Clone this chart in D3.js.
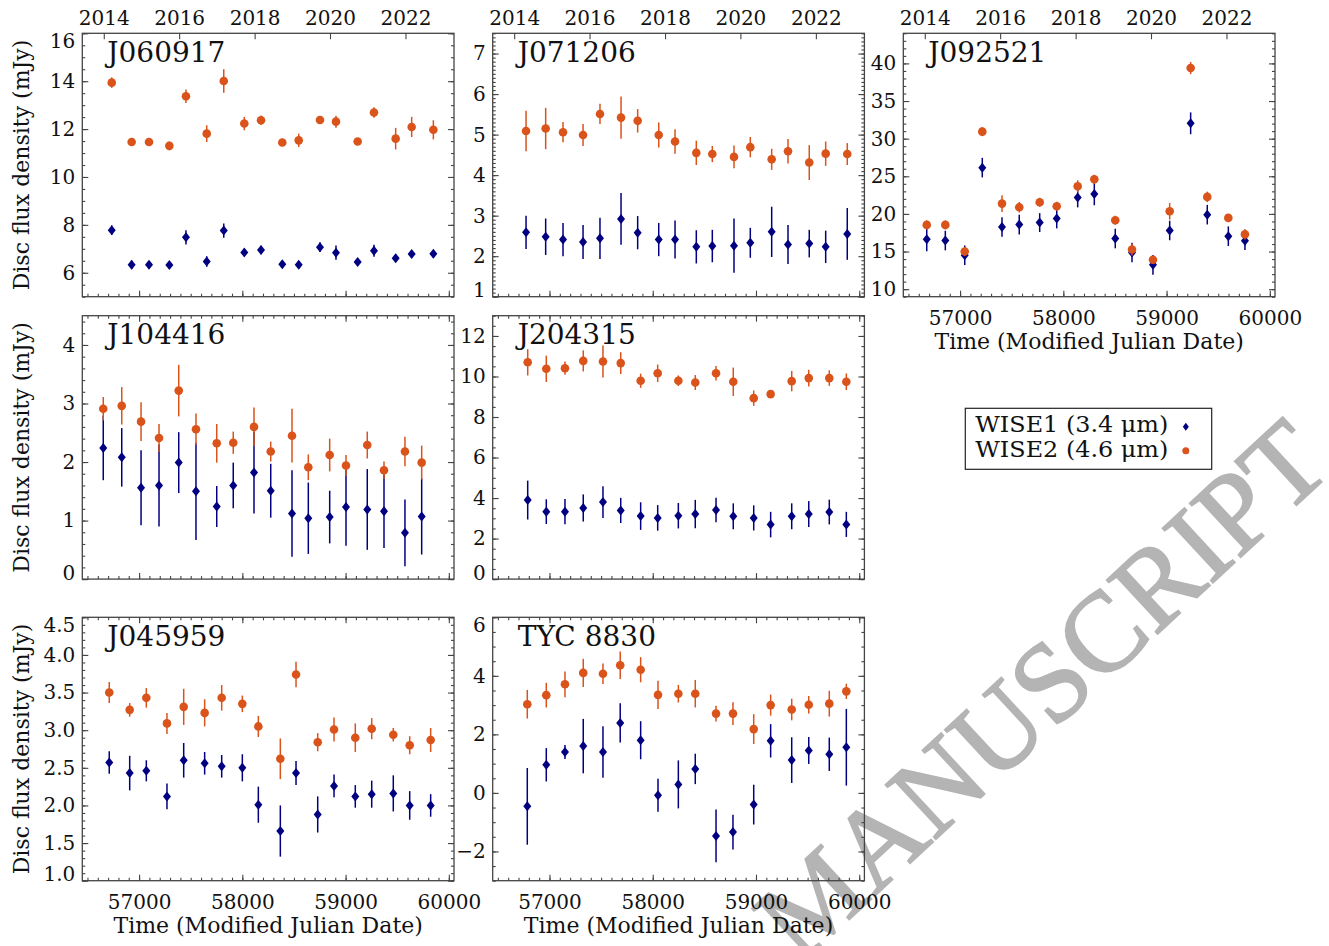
<!DOCTYPE html>
<html>
<head>
<meta charset="utf-8">
<script src="https://cdn.jsdelivr.net/npm/d3@7"></script>
<style>
  body { margin: 0; background: #fff; }
  svg { display: block; }
  text { font-family: "DejaVu Serif", serif; fill: #111; }
</style>
</head>
<body>
<script>
// light curves, WISE1 (3.4 um) and WISE2 (4.6 um)
var j060917_mjd = [56735, 56928, 57096, 57293, 57454, 57655, 57820, 58019, 58181, 58387, 58546, 58752, 58907, 59117, 59275, 59485, 59640, 59850];
var j060917_w1  = [7.78, 6.33, 6.33, 6.32, 7.48, 6.47, 7.76, 6.85, 6.95, 6.35, 6.33, 7.07, 6.84, 6.45, 6.92, 6.61, 6.78, 6.79];
var j060917_w1e = [0.2, 0.18, 0.15, 0.15, 0.3, 0.22, 0.3, 0.15, 0.18, 0.15, 0.15, 0.2, 0.3, 0.15, 0.25, 0.15, 0.15, 0.15];
var j060917_w2  = [13.94, 11.46, 11.46, 11.30, 13.37, 11.81, 14.01, 12.23, 12.37, 11.44, 11.53, 12.38, 12.31, 11.48, 12.69, 11.60, 12.09, 11.97];
var j060917_w2e = [0.22, 0.15, 0.12, 0.18, 0.28, 0.35, 0.49, 0.28, 0.2, 0.15, 0.28, 0.15, 0.25, 0.12, 0.22, 0.45, 0.42, 0.4];

var j071206_mjd = [56773, 56963, 57131, 57325, 57489, 57693, 57854, 58058, 58216, 58422, 58577, 58787, 58945, 59152, 59310, 59516, 59675, 59884];
var j071206_w1  = [2.59, 2.48, 2.41, 2.35, 2.44, 2.92, 2.58, 2.41, 2.41, 2.23, 2.25, 2.26, 2.33, 2.60, 2.29, 2.31, 2.23, 2.55];
var j071206_w1e = [0.41, 0.45, 0.41, 0.42, 0.51, 0.64, 0.41, 0.41, 0.47, 0.41, 0.4, 0.67, 0.37, 0.62, 0.48, 0.34, 0.4, 0.64];
var j071206_w2  = [5.09, 5.15, 5.06, 4.99, 5.51, 5.42, 5.34, 4.99, 4.83, 4.55, 4.52, 4.45, 4.69, 4.39, 4.59, 4.31, 4.53, 4.52];
var j071206_w2e = [0.5, 0.51, 0.25, 0.27, 0.25, 0.52, 0.29, 0.31, 0.3, 0.3, 0.2, 0.28, 0.25, 0.26, 0.3, 0.43, 0.3, 0.27];

var j092521_mjd = [56677, 56857, 57045, 57215, 57406, 57573, 57771, 57936, 58139, 58300, 58503, 58665, 58868, 59030, 59233, 59394, 59598, 59759];
var j092521_w1  = [16.64, 16.46, 14.5, 26.15, 18.27, 18.58, 18.85, 19.38, 22.17, 22.65, 16.73, 14.87, 13.23, 17.8, 32.04, 19.9, 17.04, 16.42];
var j092521_w1e = [1.6, 1.3, 1.3, 1.3, 1.3, 1.3, 1.25, 1.3, 1.3, 1.5, 1.3, 1.3, 1.3, 1.3, 1.45, 1.3, 1.3, 1.2];
var j092521_w2  = [18.54, 18.54, 15.0, 30.93, 21.37, 20.88, 21.55, 21.02, 23.67, 24.6, 19.16, 15.27, 13.9, 20.35, 39.38, 22.26, 19.47, 17.3];
var j092521_w2e = [0.6, 0.6, 0.6, 0.6, 1.1, 0.7, 0.6, 0.6, 0.8, 0.6, 0.6, 0.8, 0.5, 1.1, 0.8, 0.7, 0.5, 0.7];

var j104416_mjd = [56653, 56832, 57019, 57193, 57384, 57551, 57752, 57912, 58113, 58275, 58481, 58639, 58846, 59004, 59210, 59372, 59575, 59737];
var j104416_w1  = [2.24, 2.08, 1.56, 1.60, 1.99, 1.50, 1.24, 1.60, 1.82, 1.51, 1.12, 1.04, 1.06, 1.23, 1.19, 1.16, 0.79, 1.07];
var j104416_w1e = [0.55, 0.5, 0.64, 0.7, 0.52, 0.83, 0.35, 0.39, 0.7, 0.46, 0.74, 0.61, 0.45, 0.66, 0.69, 0.63, 0.57, 0.65];
var j104416_w2  = [2.91, 2.96, 2.69, 2.41, 3.22, 2.56, 2.32, 2.33, 2.60, 2.18, 2.45, 1.91, 2.12, 1.94, 2.29, 1.86, 2.18, 1.99];
var j104416_w2e = [0.2, 0.32, 0.33, 0.24, 0.44, 0.27, 0.33, 0.19, 0.33, 0.17, 0.46, 0.22, 0.28, 0.18, 0.23, 0.15, 0.25, 0.29];

var j204315_mjd = [56789, 56969, 57150, 57327, 57518, 57690, 57883, 58048, 58248, 58412, 58613, 58780, 58978, 59142, 59346, 59511, 59710, 59875];
var j204315_w1  = [3.90, 3.33, 3.33, 3.51, 3.80, 3.39, 3.11, 3.02, 3.13, 3.21, 3.41, 3.10, 3.02, 2.69, 3.10, 3.21, 3.31, 2.70];
var j204315_w1e = [0.96, 0.61, 0.62, 0.67, 0.78, 0.62, 0.68, 0.63, 0.63, 0.7, 0.6, 0.64, 0.62, 0.63, 0.64, 0.64, 0.61, 0.62];
var j204315_w2  = [10.70, 10.38, 10.41, 10.77, 10.74, 10.66, 9.79, 10.16, 9.79, 9.70, 10.16, 9.74, 8.93, 9.13, 9.77, 9.92, 9.92, 9.74];
var j204315_w2e = [0.65, 0.65, 0.33, 0.52, 0.79, 0.54, 0.35, 0.43, 0.26, 0.37, 0.36, 0.7, 0.38, 0.15, 0.5, 0.41, 0.38, 0.41];

var j045959_mjd = [56711, 56909, 57070, 57270, 57432, 57635, 57800, 58000, 58155, 58368, 58520, 58730, 58888, 59094, 59253, 59462, 59621, 59824];
var j045959_w1  = [2.57, 2.43, 2.46, 2.12, 2.60, 2.56, 2.52, 2.50, 2.01, 1.66, 2.43, 1.88, 2.26, 2.12, 2.15, 2.16, 2.00, 2.00];
var j045959_w1e = [0.15, 0.23, 0.14, 0.17, 0.23, 0.15, 0.15, 0.18, 0.24, 0.34, 0.16, 0.24, 0.15, 0.15, 0.18, 0.24, 0.19, 0.15];
var j045959_w2  = [3.50, 3.27, 3.43, 3.09, 3.31, 3.23, 3.43, 3.35, 3.05, 2.62, 3.74, 2.84, 3.01, 2.90, 3.02, 2.94, 2.80, 2.87];
var j045959_w2e = [0.14, 0.09, 0.13, 0.14, 0.24, 0.18, 0.17, 0.11, 0.14, 0.27, 0.17, 0.12, 0.16, 0.19, 0.14, 0.09, 0.12, 0.16];

var tyc8830_mjd = [56785, 56969, 57150, 57327, 57518, 57685, 57883, 58051, 58248, 58412, 58613, 58777, 58978, 59142, 59346, 59511, 59710, 59875];
var tyc8830_w1  = [-0.46, 0.96, 1.40, 1.60, 1.40, 2.39, 1.80, -0.08, 0.29, 0.82, -1.47, -1.34, -0.40, 1.78, 1.12, 1.45, 1.32, 1.56];
var tyc8830_w1e = [1.31, 0.57, 0.24, 0.93, 0.88, 0.67, 0.65, 0.56, 0.82, 0.52, 0.9, 0.59, 0.68, 0.57, 0.78, 0.46, 0.57, 1.31];
var tyc8830_w2  = [3.03, 3.34, 3.71, 4.10, 4.07, 4.36, 4.21, 3.35, 3.39, 3.39, 2.71, 2.71, 2.18, 3.00, 2.85, 3.01, 3.05, 3.47];
var tyc8830_w2e = [0.49, 0.42, 0.44, 0.48, 0.35, 0.47, 0.43, 0.48, 0.3, 0.47, 0.27, 0.39, 0.51, 0.36, 0.37, 0.3, 0.44, 0.26];

// top axis: calendar years and their MJD
var yearLabels = [2014, 2016, 2018, 2020, 2022];
var yearMjd    = [56658, 57388, 58119, 58849, 59580];
var mjdLabels  = [57000, 58000, 59000, 60000];

var legendLabels = ["WISE1 (3.4 \u03bcm)", "WISE2 (4.6 \u03bcm)"];

var W1_COLOR = "#000080", W2_COLOR = "#d9531a";

var panels = [
  {name: "J060917",  row: 0, col: 0, mjd: j060917_mjd, w1: j060917_w1, w1e: j060917_w1e, w2: j060917_w2, w2e: j060917_w2e, ydom: [5, 16],   major: 2,   minor: 0.5, first: 6},
  {name: "J071206",  row: 0, col: 1, mjd: j071206_mjd, w1: j071206_w1, w1e: j071206_w1e, w2: j071206_w2, w2e: j071206_w2e, ydom: [1, 7.5],  major: 1,   minor: 0.1, first: 1},
  {name: "J092521",  row: 0, col: 2, mjd: j092521_mjd, w1: j092521_w1, w1e: j092521_w1e, w2: j092521_w2, w2e: j092521_w2e, ydom: [9, 44],   major: 5,   minor: 1,   first: 10},
  {name: "J104416",  row: 1, col: 0, mjd: j104416_mjd, w1: j104416_w1, w1e: j104416_w1e, w2: j104416_w2, w2e: j104416_w2e, ydom: [0, 4.5],  major: 1,   minor: 0.2, first: 0},
  {name: "J204315",  row: 1, col: 1, mjd: j204315_mjd, w1: j204315_w1, w1e: j204315_w1e, w2: j204315_w2, w2e: j204315_w2e, ydom: [0, 13],   major: 2,   minor: 0.5, first: 0},
  {name: "J045959",  row: 2, col: 0, mjd: j045959_mjd, w1: j045959_w1, w1e: j045959_w1e, w2: j045959_w2, w2e: j045959_w2e, ydom: [1, 4.5],  major: 0.5, minor: 0.1, first: 1, fmt: ".1f"},
  {name: "TYC 8830", row: 2, col: 1, mjd: tyc8830_mjd, w1: tyc8830_w1, w1e: tyc8830_w1e, w2: tyc8830_w2, w2e: tyc8830_w2e, ydom: [-3, 6],   major: 2,   minor: 0.5, first: -2}
];

var width = 1329, height = 946;
var pw = 371.7, ph = 263.4;
var lefts = [82.3, 492.7, 903.3];
var tops = [33.3, 315.7, 617.3];

var svg = d3.select("body").append("svg")
  .attr("width", width)
  .attr("height", height);

// watermark sits under everything (its lower end runs off the page, as in the original)
svg.append("text")
  .attr("transform", "translate(800,965) rotate(-42.8)")
  .style("font-family", "'Liberation Serif', serif")
  .style("font-size", "113px")
  .style("fill", "#b4b4b4")
  .style("stroke", "#b4b4b4")
  .style("stroke-width", 2)
  .text("MANUSCRIPT");

function steps(lo, hi, step) {
  var n = Math.floor((hi - lo) / step + 1e-6), out = [];
  for (var i = 0; i <= n; i++) out.push(+(lo + i * step).toFixed(4));
  return out;
}

function diamond(hw, hh) {
  return "M0," + (-hh) + "L" + hw + ",0L0," + hh + "L" + (-hw) + ",0Z";
}

var xMinor = steps(56500, 60000, 100);

panels.forEach(function(p) {
  var g = svg.append("g")
    .attr("transform", "translate(" + lefts[p.col] + "," + tops[p.row] + ")");

  var x = d3.scaleLinear().domain([56450, 60050]).range([0, pw]);
  var y = d3.scaleLinear().domain(p.ydom).range([ph, 0]);

  var majors = steps(p.first, p.ydom[1], p.major);
  var minors = steps(Math.ceil(p.ydom[0] / p.minor) * p.minor, p.ydom[1], p.minor);
  var fmt = p.fmt ? d3.format(p.fmt) : d3.format("");

  // y axes, ticks pointing inward on both sides
  var yl = g.append("g").attr("class", "y axis")
    .call(d3.axisLeft(y).tickValues(majors).tickFormat(fmt).tickSize(-6).tickPadding(7));
  // end labels are pulled inside the frame's height
  yl.selectAll(".tick text")
    .attr("y", function(d) {
      var py = y(d);
      if (py < 7.5) return 7.5 - py;
      if (py > ph - 6.5) return ph - 6.5 - py;
      return 0;
    });
  g.append("g").attr("class", "y axis")
    .call(d3.axisLeft(y).tickValues(minors).tickFormat("").tickSize(-3));
  g.append("g").attr("class", "y axis")
    .attr("transform", "translate(" + pw + ",0)")
    .call(d3.axisRight(y).tickValues(majors).tickFormat("").tickSize(-6));
  g.append("g").attr("class", "y axis")
    .attr("transform", "translate(" + pw + ",0)")
    .call(d3.axisRight(y).tickValues(minors).tickFormat("").tickSize(-3));

  // bottom MJD axis
  var showMjd = p.row === 2 || p.name === "J092521";
  g.append("g").attr("class", "x axis")
    .attr("transform", "translate(0," + ph + ")")
    .call(d3.axisBottom(x).tickValues(mjdLabels).tickFormat(showMjd ? d3.format("") : "").tickSize(-6).tickPadding(14));
  g.append("g").attr("class", "x axis")
    .attr("transform", "translate(0," + ph + ")")
    .call(d3.axisBottom(x).tickValues(xMinor).tickFormat("").tickSize(-3));

  // top axis: years on the first row, MJD mirror below that
  if (p.row === 0) {
    g.append("g").attr("class", "x axis")
      .call(d3.axisTop(x).tickValues(yearMjd)
        .tickFormat(function(d, i) { return yearLabels[i]; })
        .tickSize(-6).tickPadding(8));
  } else {
    g.append("g").attr("class", "x axis")
      .call(d3.axisTop(x).tickValues(mjdLabels).tickFormat("").tickSize(-6));
    g.append("g").attr("class", "x axis")
      .call(d3.axisTop(x).tickValues(xMinor).tickFormat("").tickSize(-3));
  }

  g.selectAll(".axis .domain").remove();
  g.selectAll(".axis line").attr("stroke", "#444").attr("stroke-width", 1.1);
  g.selectAll(".axis text")
    .style("font-family", "'DejaVu Serif', serif")
    .style("font-size", "20px")
    .attr("fill", "#111");

  var w1 = p.mjd.map(function(d, i) { return {t: d, v: p.w1[i], e: p.w1e[i]}; });
  var w2 = p.mjd.map(function(d, i) { return {t: d, v: p.w2[i], e: p.w2e[i]}; });

  g.selectAll(".err1").data(w1).enter().append("line")
    .attr("x1", function(d) { return x(d.t); })
    .attr("x2", function(d) { return x(d.t); })
    .attr("y1", function(d) { return y(d.v - d.e); })
    .attr("y2", function(d) { return y(d.v + d.e); })
    .attr("stroke", W1_COLOR).attr("stroke-width", 1.5);

  g.selectAll(".pt1").data(w1).enter().append("path")
    .attr("d", diamond(4, 5))
    .attr("transform", function(d) { return "translate(" + x(d.t) + "," + y(d.v) + ")"; })
    .attr("fill", W1_COLOR);

  g.selectAll(".err2").data(w2).enter().append("line")
    .attr("x1", function(d) { return x(d.t); })
    .attr("x2", function(d) { return x(d.t); })
    .attr("y1", function(d) { return y(d.v - d.e); })
    .attr("y2", function(d) { return y(d.v + d.e); })
    .attr("stroke", W2_COLOR).attr("stroke-width", 1.5);

  g.selectAll(".pt2").data(w2).enter().append("circle")
    .attr("cx", function(d) { return x(d.t); })
    .attr("cy", function(d) { return y(d.v); })
    .attr("r", 4.3)
    .attr("fill", W2_COLOR);

  g.append("rect")
    .attr("width", pw).attr("height", ph)
    .attr("fill", "none").attr("stroke", "#444").attr("stroke-width", 1.3);

  g.append("text")
    .attr("x", 25).attr("y", 28.5)
    .style("font-size", "28px")
    .text(p.name);

  if (p.col === 0) {
    g.append("text")
      .attr("transform", "translate(-53," + (ph / 2) + ") rotate(-90)")
      .attr("text-anchor", "middle")
      .style("font-size", "22px")
      .text("Disc flux density (mJy)");
  }
  if (showMjd) {
    g.append("text")
      .attr("x", pw / 2).attr("y", ph + 52)
      .attr("text-anchor", "middle")
      .style("font-size", "22px")
      .text("Time (Modified Julian Date)");
  }
});

// legend
var lg = svg.append("g").attr("transform", "translate(965.3,408.3)");
lg.append("rect")
  .attr("width", 246.4).attr("height", 61)
  .attr("fill", "#fff").attr("stroke", "#222").attr("stroke-width", 1.2);
lg.selectAll(".lab").data(legendLabels).enter().append("text")
  .attr("x", 10)
  .attr("y", function(d, i) { return 24 + i * 25; })
  .attr("textLength", 193)
  .attr("lengthAdjust", "spacingAndGlyphs")
  .style("font-size", "22px")
  .text(function(d) { return d; });
lg.append("path")
  .attr("d", diamond(3, 4))
  .attr("transform", "translate(220.5,18.5)")
  .attr("fill", W1_COLOR);
lg.append("circle")
  .attr("cx", 220.5).attr("cy", 42.5).attr("r", 3.5)
  .attr("fill", W2_COLOR);
</script>
</body>
</html>
